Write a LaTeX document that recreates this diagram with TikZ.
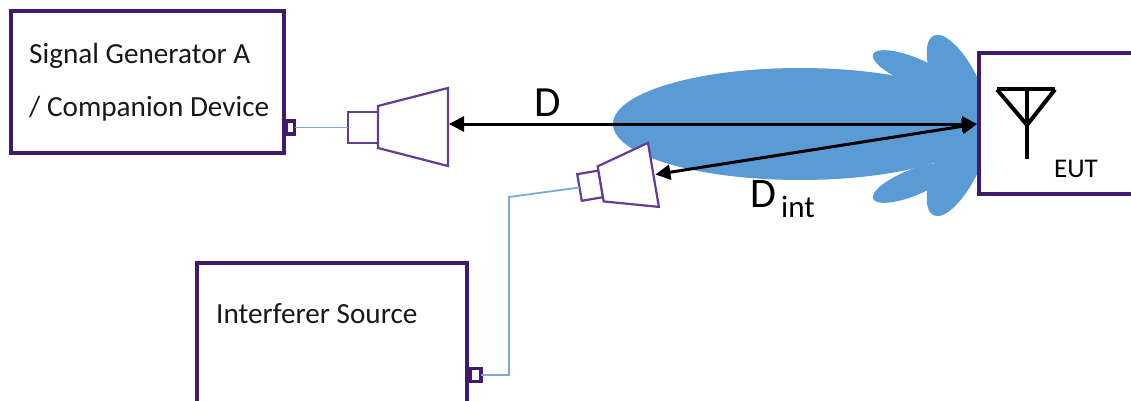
\documentclass[tikz,border=0pt]{standalone}
\usepackage{fontspec}
\setmainfont{Carlito}
\usetikzlibrary{arrows.meta}
\definecolor{boxpurple}{RGB}{64,26,110}
\definecolor{hornpurple}{RGB}{100,60,150}
\definecolor{lobeblue}{RGB}{91,155,213}
\definecolor{wireblue}{RGB}{120,170,222}
\begin{document}
\begin{tikzpicture}[x=1pt,y=-1pt,
  box/.style={draw=boxpurple, line width=4pt, fill=white, rectangle, inner sep=0pt, outer sep=0pt, anchor=north west},
  port/.style={draw=boxpurple, line width=3.2pt, fill=white, rectangle, inner sep=0pt, outer sep=0pt},
  horn/.style={draw=hornpurple, line width=2.2pt, fill=white, line join=miter},
  wire/.style={draw=wireblue, line width=1.8pt},
  lobe/.style={fill=lobeblue},
  dist/.style={draw=black, line width=3pt, {Triangle[length=15pt,width=15pt]}-{Triangle[length=15pt,width=15pt]}},
  boxtext/.style={anchor=base west, inner sep=0pt, text=black!90, font=\fontsize{29.2}{35}\selectfont},
  label/.style={anchor=base west, inner sep=0pt, text=black}
]
\useasboundingbox (0,0) rectangle (1131,401);
\clip (0,0) rectangle (1131,401);

% radiation pattern
\fill[lobe] (800,124) ellipse[x radius=187, y radius=56];
\fill[lobe, rotate around={-65:(959,90)}] (959,90) ellipse[x radius=60, y radius=22];
\fill[lobe, rotate around={65:(959,161)}] (959,161) ellipse[x radius=60, y radius=22];
\fill[lobe, rotate around={-22:(912,70)}] (912,70) ellipse[x radius=42, y radius=13];
\fill[lobe, rotate around={22:(912,183)}] (912,183) ellipse[x radius=42, y radius=13];

% boxes
\node[box, minimum width=273.5pt, minimum height=141pt] (sg) at (10.5,11.5) {};
\node[box, minimum width=270pt, minimum height=160pt] (intf) at (196.5,263) {};
\node[box, minimum width=200pt, minimum height=140pt] (eut) at (978.5,53.5) {};

% ports
\node[port, minimum width=8pt, minimum height=13pt] (sgport) at (290.5,127.5) {};
\node[port, minimum width=10.5pt, minimum height=13pt] (intport) at (475.75,375) {};

% horn 1
\draw[horn] (348,112) rectangle (378,143);
\draw[horn] (378,106) -- (448,88) -- (448,166) -- (378,148) -- cycle;
\coordinate (horn1in) at (348,127.5);
\coordinate (horn1mouth) at (449,124);

% horn 2
\begin{scope}[shift={(579.5,187.5)}, rotate=9.7]
\draw[horn] (0,-13.5) rectangle (21.5,13.5);
\draw[horn] (21.5,-17.8) -- (75,-32.5) -- (75,32.5) -- (21.5,17.8) -- cycle;
\coordinate (horn2in) at (0,0);
\coordinate (horn2mouth) at (77,0);
\end{scope}

% wires
\coordinate (bend) at (509,197);
\draw[wire] (sgport.east) -- (horn1in);
\draw[wire] (intport.east) -| (bend) -- (horn2in);

% antenna symbol
\coordinate (antL) at (997,89.5);
\coordinate (antR) at (1055,89.5);
\coordinate (antA) at (1027,125);
\coordinate (antT) at (1027,89.5);
\coordinate (antB) at (1027,159);
\draw[line width=4pt, line join=miter] (antL) -- (antR);
\draw[line width=4pt, line join=miter] (antL) -- (antA) -- (antR);
\draw[line width=4pt] (antT) -- (antB);

% distances
\coordinate (eutin) at (977,124);
\draw[dist] (horn1mouth) -- (eutin);
\draw[dist] (horn2mouth) -- (eutin);

% texts
\node[boxtext] (sgtext1) at (29,64) {Signal Generator A};
\node[boxtext] (sgtext2) at (29,117) {/ Companion Device};
\node[boxtext] (inttext) at (216,323) {Interferer Source};
\node[label, font=\fontsize{27}{32}\selectfont] (euttext) at (1054,177) {EUT};
\node[label, font=\fontsize{43}{50}\selectfont] (dlabel) at (534,117) {D};
\node[label, font=\fontsize{42}{48}\selectfont] (dintlabel) at (750,207) {D};
\node[label, font=\fontsize{31}{36}\selectfont] (intsub) at (781,217) {int};
\end{tikzpicture}
\end{document}
